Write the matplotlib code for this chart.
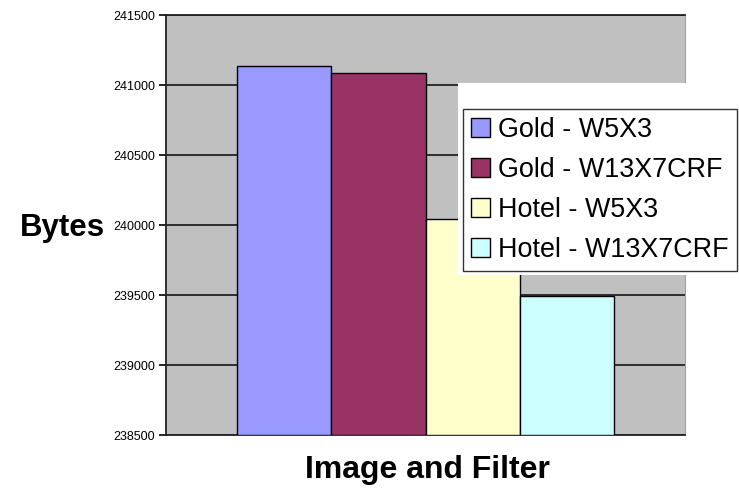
import matplotlib.pyplot as plt
from matplotlib.patches import Rectangle

# bar values (bytes) per image/filter combo
labels = ['Gold - W5X3', 'Gold - W13X7CRF', 'Hotel - W5X3', 'Hotel - W13X7CRF']
values = [241135, 241085, 240040, 239495]
colors = ['#9999FF', '#993366', '#FFFFCC', '#CCFFFF']
yticks = [238500, 239000, 239500, 240000, 240500, 241000, 241500]

plt.rcParams['font.family'] = 'Liberation Sans'

fig = plt.figure(figsize=(7.39, 4.90), dpi=100)
ax = fig.add_axes([166/739, 1 - 435/490, (685 - 166)/739, (435 - 15)/490])
ax.set_facecolor('#C0C0C0')

bars = []
for i, (v, c, lab) in enumerate(zip(values, colors, labels)):
    b = ax.bar(i, v - yticks[0], bottom=yticks[0], width=1.0, color=c,
               edgecolor='black', linewidth=1, label=lab, zorder=3)
    bars.append(b)

ax.set_xlim(-0.5 - 0.753, 3.5 + 0.753)
ax.set_ylim(yticks[0], yticks[-1])
ax.set_yticks(yticks)
ax.set_yticklabels([str(t) for t in yticks], fontsize=9)
ax.set_xticks([])
ax.yaxis.grid(True, color='#222222', linewidth=1.3, zorder=1)
ax.set_axisbelow(True)
ax.tick_params(axis='y', direction='out', length=5, width=1.2, pad=3)

for s in ['left', 'bottom', 'top']:
    ax.spines[s].set_color('#222222')
    ax.spines[s].set_linewidth(1.3)
ax.spines['right'].set_color('#A0A0A0')

fig.text(20/739, 1 - 228/490, 'Bytes', fontsize=22.5, fontweight='bold', va='center', ha='left')
fig.text(427/739, 1 - 470/490, 'Image and Filter', fontsize=23, fontweight='bold', va='center', ha='center')

# white area behind legend
fig.patches.append(Rectangle((458/739, 1 - 275/490), (739 - 458)/739, (275 - 83)/490,
                             transform=fig.transFigure, facecolor='white', edgecolor='none', zorder=1))

leg = fig.legend(handles=[b[0] for b in bars], labels=labels, loc='upper left',
                 bbox_to_anchor=(463/739, 1 - 109/490), borderaxespad=0,
                 fontsize=19.4, frameon=True, fancybox=False, shadow=False,
                 handlelength=0.7, handleheight=0.7, handletextpad=0.3,
                 labelspacing=0.52, borderpad=0.3)
leg.get_frame().set_edgecolor('black')
leg.get_frame().set_linewidth(1)
leg.set_zorder(2)

fig.savefig('out.png', dpi=100)
